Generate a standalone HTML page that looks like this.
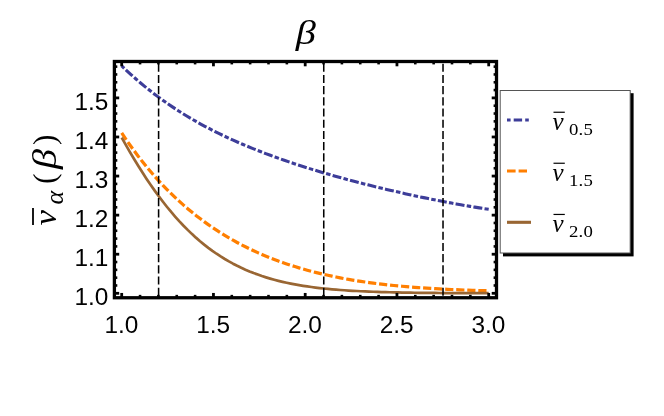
<!DOCTYPE html>
<html><head><meta charset="utf-8"><title>plot</title>
<style>
html,body{margin:0;padding:0;background:#fff;}
body{width:664px;height:416px;overflow:hidden;font-family:"Liberation Sans",sans-serif;}
svg{display:block;will-change:transform;opacity:0.999}
.tl text{font-family:"Liberation Sans",sans-serif;font-size:24.4px;fill:#000}
.mi{font-family:"Liberation Serif",serif;font-style:italic;fill:#000}
.mr{font-family:"Liberation Serif",serif;fill:#000}
</style></head><body>
<svg width="664" height="416" viewBox="0 0 664 416">
<!-- title -->
<g transform="translate(305.7,43.5) scale(1.18,1)"><text x="0" y="0" text-anchor="middle" class="mi" font-size="34.2">β</text></g>
<!-- y label -->
<g transform="translate(56,226.5) rotate(-90)">
<g transform="translate(1.0,0) scale(1.07,1)"><text x="0" y="0" class="mi" font-size="32.5">ν</text></g>
<line x1="1.6" y1="-23" x2="18.5" y2="-23" stroke="#000" stroke-width="1.8"/>
<text x="22" y="7" class="mi" font-size="26">α</text>
<text x="42.6" y="-1.1" class="mr" font-size="31.5">(</text>
<g transform="translate(57.6,0) scale(1.18,1)"><text x="0" y="0" class="mi" font-size="34.2">β</text></g>
<text x="81.4" y="-1.1" class="mr" font-size="31.5">)</text>
</g>
<!-- curves -->
<g fill="none" stroke-linecap="butt" stroke-linejoin="round">
<path d="M121.70,65.88 L126.35,70.31 L130.99,74.59 L135.64,78.72 L140.28,82.71 L144.93,86.57 L149.57,90.30 L154.22,93.90 L158.86,97.38 L163.51,100.74 L168.16,104.00 L172.80,107.15 L177.45,110.19 L182.09,113.14 L186.74,115.99 L191.38,118.76 L196.03,121.44 L200.67,124.03 L205.32,126.55 L209.97,128.99 L214.61,131.36 L219.26,133.67 L223.90,135.90 L228.55,138.08 L233.19,140.20 L237.84,142.26 L242.48,144.26 L247.13,146.22 L251.78,148.13 L256.42,149.99 L261.07,151.80 L265.71,153.58 L270.36,155.31 L275.00,157.01 L279.65,158.67 L284.29,160.29 L288.94,161.89 L293.59,163.44 L298.23,164.97 L302.88,166.47 L307.52,167.94 L312.17,169.39 L316.81,170.80 L321.46,172.19 L326.11,173.56 L330.75,174.90 L335.40,176.22 L340.04,177.52 L344.69,178.79 L349.33,180.05 L353.98,181.28 L358.62,182.50 L363.27,183.69 L367.92,184.87 L372.56,186.03 L377.21,187.17 L381.85,188.29 L386.50,189.39 L391.14,190.48 L395.79,191.55 L400.43,192.61 L405.08,193.65 L409.73,194.67 L414.37,195.67 L419.02,196.66 L423.66,197.63 L428.31,198.59 L432.95,199.53 L437.60,200.45 L442.24,201.35 L446.89,202.23 L451.54,203.10 L456.18,203.95 L460.83,204.78 L465.47,205.59 L470.12,206.38 L474.76,207.14 L479.41,207.89 L484.05,208.62 L488.70,209.32" stroke="#3d3d99" stroke-width="3.1" stroke-dasharray="4.5 2.26 9 2.28" stroke-dashoffset="1"/>
<path d="M121.70,132.93 L125.82,139.08 L129.95,145.00 L134.07,150.71 L138.19,156.21 L142.32,161.51 L146.44,166.62 L150.57,171.55 L154.69,176.30 L158.81,180.88 L162.94,185.30 L167.06,189.56 L171.18,193.67 L175.31,197.63 L179.43,201.45 L183.55,205.13 L187.68,208.68 L191.80,212.10 L195.92,215.40 L200.05,218.59 L204.17,221.65 L208.30,224.61 L212.42,227.46 L216.54,230.20 L220.67,232.85 L224.79,235.40 L228.91,237.85 L233.04,240.21 L237.16,242.49 L241.28,244.68 L245.41,246.79 L249.53,248.82 L253.66,250.78 L257.78,252.66 L261.90,254.47 L266.03,256.20 L270.15,257.87 L274.27,259.48 L278.40,261.02 L282.52,262.50 L286.64,263.93 L290.77,265.29 L294.89,266.60 L299.01,267.86 L303.14,269.06 L307.26,270.22 L311.39,271.32 L315.51,272.38 L319.63,273.40 L323.76,274.37 L327.88,275.30 L332.00,276.18 L336.13,277.03 L340.25,277.84 L344.37,278.62 L348.50,279.35 L352.62,280.06 L356.74,280.73 L360.87,281.37 L364.99,281.98 L369.12,282.56 L373.24,283.11 L377.36,283.64 L381.49,284.14 L385.61,284.61 L389.73,285.06 L393.86,285.49 L397.98,285.89 L402.10,286.28 L406.23,286.64 L410.35,286.98 L414.48,287.31 L418.60,287.61 L422.72,287.90 L426.85,288.18 L430.97,288.44 L435.09,288.68 L439.22,288.91 L443.34,289.12 L447.46,289.33 L451.59,289.52 L455.71,289.70 L459.83,289.86 L463.96,290.02 L468.08,290.17 L472.21,290.31 L476.33,290.44 L480.45,290.56 L484.58,290.67 L488.70,290.77" stroke="#ff7f00" stroke-width="3.2" stroke-dasharray="8.2 2.855"/>
<path d="M121.70,137.59 L125.82,144.94 L129.95,152.09 L134.07,159.04 L138.19,165.79 L142.32,172.33 L146.44,178.65 L150.57,184.75 L154.69,190.63 L158.81,196.30 L162.94,201.74 L167.06,206.97 L171.18,211.98 L175.31,216.77 L179.43,221.35 L183.55,225.73 L187.68,229.89 L191.80,233.86 L195.92,237.63 L200.05,241.21 L204.17,244.61 L208.30,247.82 L212.42,250.87 L216.54,253.74 L220.67,256.45 L224.79,259.01 L228.91,261.42 L233.04,263.68 L237.16,265.81 L241.28,267.80 L245.41,269.67 L249.53,271.42 L253.66,273.06 L257.78,274.59 L261.90,276.02 L266.03,277.35 L270.15,278.59 L274.27,279.75 L278.40,280.82 L282.52,281.82 L286.64,282.74 L290.77,283.60 L294.89,284.40 L299.01,285.13 L303.14,285.81 L307.26,286.44 L311.39,287.02 L315.51,287.56 L319.63,288.05 L323.76,288.50 L327.88,288.92 L332.00,289.30 L336.13,289.65 L340.25,289.98 L344.37,290.27 L348.50,290.55 L352.62,290.80 L356.74,291.02 L360.87,291.23 L364.99,291.42 L369.12,291.60 L373.24,291.75 L377.36,291.90 L381.49,292.03 L385.61,292.15 L389.73,292.26 L393.86,292.36 L397.98,292.45 L402.10,292.53 L406.23,292.60 L410.35,292.67 L414.48,292.73 L418.60,292.79 L422.72,292.84 L426.85,292.88 L430.97,292.92 L435.09,292.96 L439.22,293.00 L443.34,293.03 L447.46,293.05 L451.59,293.08 L455.71,293.10 L459.83,293.12 L463.96,293.14 L468.08,293.15 L472.21,293.17 L476.33,293.18 L480.45,293.19 L484.58,293.20 L488.70,293.21" stroke="#996633" stroke-width="2.7"/>
</g>
<!-- vertical dashed lines -->
<g stroke="#000" stroke-width="1.55" stroke-dasharray="8.08 3.12" stroke-dashoffset="-2.2" fill="none"><line x1="158.60" y1="61.5" x2="158.60" y2="297.75"/><line x1="323.75" y1="61.5" x2="323.75" y2="297.75"/><line x1="443.02" y1="61.5" x2="443.02" y2="297.75"/></g>
<!-- frame -->
<rect x="114.4" y="61.5" width="382.1" height="236.25" fill="none" stroke="#000" stroke-width="3.3"/>
<g stroke="#000"><line x1="121.70" y1="297.75" x2="121.70" y2="292.95" stroke-width="2.8"/><line x1="121.70" y1="61.5" x2="121.70" y2="66.30" stroke-width="2.8"/><line x1="140.05" y1="297.75" x2="140.05" y2="294.85" stroke-width="2.6"/><line x1="140.05" y1="61.5" x2="140.05" y2="64.40" stroke-width="2.6"/><line x1="158.40" y1="297.75" x2="158.40" y2="294.85" stroke-width="2.6"/><line x1="158.40" y1="61.5" x2="158.40" y2="64.40" stroke-width="2.6"/><line x1="176.75" y1="297.75" x2="176.75" y2="294.85" stroke-width="2.6"/><line x1="176.75" y1="61.5" x2="176.75" y2="64.40" stroke-width="2.6"/><line x1="195.10" y1="297.75" x2="195.10" y2="294.85" stroke-width="2.6"/><line x1="195.10" y1="61.5" x2="195.10" y2="64.40" stroke-width="2.6"/><line x1="213.45" y1="297.75" x2="213.45" y2="292.95" stroke-width="2.8"/><line x1="213.45" y1="61.5" x2="213.45" y2="66.30" stroke-width="2.8"/><line x1="231.80" y1="297.75" x2="231.80" y2="294.85" stroke-width="2.6"/><line x1="231.80" y1="61.5" x2="231.80" y2="64.40" stroke-width="2.6"/><line x1="250.15" y1="297.75" x2="250.15" y2="294.85" stroke-width="2.6"/><line x1="250.15" y1="61.5" x2="250.15" y2="64.40" stroke-width="2.6"/><line x1="268.50" y1="297.75" x2="268.50" y2="294.85" stroke-width="2.6"/><line x1="268.50" y1="61.5" x2="268.50" y2="64.40" stroke-width="2.6"/><line x1="286.85" y1="297.75" x2="286.85" y2="294.85" stroke-width="2.6"/><line x1="286.85" y1="61.5" x2="286.85" y2="64.40" stroke-width="2.6"/><line x1="305.20" y1="297.75" x2="305.20" y2="292.95" stroke-width="2.8"/><line x1="305.20" y1="61.5" x2="305.20" y2="66.30" stroke-width="2.8"/><line x1="323.55" y1="297.75" x2="323.55" y2="294.85" stroke-width="2.6"/><line x1="323.55" y1="61.5" x2="323.55" y2="64.40" stroke-width="2.6"/><line x1="341.90" y1="297.75" x2="341.90" y2="294.85" stroke-width="2.6"/><line x1="341.90" y1="61.5" x2="341.90" y2="64.40" stroke-width="2.6"/><line x1="360.25" y1="297.75" x2="360.25" y2="294.85" stroke-width="2.6"/><line x1="360.25" y1="61.5" x2="360.25" y2="64.40" stroke-width="2.6"/><line x1="378.60" y1="297.75" x2="378.60" y2="294.85" stroke-width="2.6"/><line x1="378.60" y1="61.5" x2="378.60" y2="64.40" stroke-width="2.6"/><line x1="396.95" y1="297.75" x2="396.95" y2="292.95" stroke-width="2.8"/><line x1="396.95" y1="61.5" x2="396.95" y2="66.30" stroke-width="2.8"/><line x1="415.30" y1="297.75" x2="415.30" y2="294.85" stroke-width="2.6"/><line x1="415.30" y1="61.5" x2="415.30" y2="64.40" stroke-width="2.6"/><line x1="433.65" y1="297.75" x2="433.65" y2="294.85" stroke-width="2.6"/><line x1="433.65" y1="61.5" x2="433.65" y2="64.40" stroke-width="2.6"/><line x1="452.00" y1="297.75" x2="452.00" y2="294.85" stroke-width="2.6"/><line x1="452.00" y1="61.5" x2="452.00" y2="64.40" stroke-width="2.6"/><line x1="470.35" y1="297.75" x2="470.35" y2="294.85" stroke-width="2.6"/><line x1="470.35" y1="61.5" x2="470.35" y2="64.40" stroke-width="2.6"/><line x1="488.70" y1="297.75" x2="488.70" y2="292.95" stroke-width="2.8"/><line x1="488.70" y1="61.5" x2="488.70" y2="66.30" stroke-width="2.8"/><line x1="114.4" y1="293.30" x2="119.20" y2="293.30" stroke-width="2.8"/><line x1="496.5" y1="293.30" x2="491.70" y2="293.30" stroke-width="2.8"/><line x1="114.4" y1="285.48" x2="117.30" y2="285.48" stroke-width="2.6"/><line x1="496.5" y1="285.48" x2="493.60" y2="285.48" stroke-width="2.6"/><line x1="114.4" y1="277.67" x2="117.30" y2="277.67" stroke-width="2.6"/><line x1="496.5" y1="277.67" x2="493.60" y2="277.67" stroke-width="2.6"/><line x1="114.4" y1="269.85" x2="117.30" y2="269.85" stroke-width="2.6"/><line x1="496.5" y1="269.85" x2="493.60" y2="269.85" stroke-width="2.6"/><line x1="114.4" y1="262.04" x2="117.30" y2="262.04" stroke-width="2.6"/><line x1="496.5" y1="262.04" x2="493.60" y2="262.04" stroke-width="2.6"/><line x1="114.4" y1="254.22" x2="119.20" y2="254.22" stroke-width="2.8"/><line x1="496.5" y1="254.22" x2="491.70" y2="254.22" stroke-width="2.8"/><line x1="114.4" y1="246.40" x2="117.30" y2="246.40" stroke-width="2.6"/><line x1="496.5" y1="246.40" x2="493.60" y2="246.40" stroke-width="2.6"/><line x1="114.4" y1="238.59" x2="117.30" y2="238.59" stroke-width="2.6"/><line x1="496.5" y1="238.59" x2="493.60" y2="238.59" stroke-width="2.6"/><line x1="114.4" y1="230.77" x2="117.30" y2="230.77" stroke-width="2.6"/><line x1="496.5" y1="230.77" x2="493.60" y2="230.77" stroke-width="2.6"/><line x1="114.4" y1="222.96" x2="117.30" y2="222.96" stroke-width="2.6"/><line x1="496.5" y1="222.96" x2="493.60" y2="222.96" stroke-width="2.6"/><line x1="114.4" y1="215.14" x2="119.20" y2="215.14" stroke-width="2.8"/><line x1="496.5" y1="215.14" x2="491.70" y2="215.14" stroke-width="2.8"/><line x1="114.4" y1="207.32" x2="117.30" y2="207.32" stroke-width="2.6"/><line x1="496.5" y1="207.32" x2="493.60" y2="207.32" stroke-width="2.6"/><line x1="114.4" y1="199.51" x2="117.30" y2="199.51" stroke-width="2.6"/><line x1="496.5" y1="199.51" x2="493.60" y2="199.51" stroke-width="2.6"/><line x1="114.4" y1="191.69" x2="117.30" y2="191.69" stroke-width="2.6"/><line x1="496.5" y1="191.69" x2="493.60" y2="191.69" stroke-width="2.6"/><line x1="114.4" y1="183.88" x2="117.30" y2="183.88" stroke-width="2.6"/><line x1="496.5" y1="183.88" x2="493.60" y2="183.88" stroke-width="2.6"/><line x1="114.4" y1="176.06" x2="119.20" y2="176.06" stroke-width="2.8"/><line x1="496.5" y1="176.06" x2="491.70" y2="176.06" stroke-width="2.8"/><line x1="114.4" y1="168.24" x2="117.30" y2="168.24" stroke-width="2.6"/><line x1="496.5" y1="168.24" x2="493.60" y2="168.24" stroke-width="2.6"/><line x1="114.4" y1="160.43" x2="117.30" y2="160.43" stroke-width="2.6"/><line x1="496.5" y1="160.43" x2="493.60" y2="160.43" stroke-width="2.6"/><line x1="114.4" y1="152.61" x2="117.30" y2="152.61" stroke-width="2.6"/><line x1="496.5" y1="152.61" x2="493.60" y2="152.61" stroke-width="2.6"/><line x1="114.4" y1="144.80" x2="117.30" y2="144.80" stroke-width="2.6"/><line x1="496.5" y1="144.80" x2="493.60" y2="144.80" stroke-width="2.6"/><line x1="114.4" y1="136.98" x2="119.20" y2="136.98" stroke-width="2.8"/><line x1="496.5" y1="136.98" x2="491.70" y2="136.98" stroke-width="2.8"/><line x1="114.4" y1="129.16" x2="117.30" y2="129.16" stroke-width="2.6"/><line x1="496.5" y1="129.16" x2="493.60" y2="129.16" stroke-width="2.6"/><line x1="114.4" y1="121.35" x2="117.30" y2="121.35" stroke-width="2.6"/><line x1="496.5" y1="121.35" x2="493.60" y2="121.35" stroke-width="2.6"/><line x1="114.4" y1="113.53" x2="117.30" y2="113.53" stroke-width="2.6"/><line x1="496.5" y1="113.53" x2="493.60" y2="113.53" stroke-width="2.6"/><line x1="114.4" y1="105.72" x2="117.30" y2="105.72" stroke-width="2.6"/><line x1="496.5" y1="105.72" x2="493.60" y2="105.72" stroke-width="2.6"/><line x1="114.4" y1="97.90" x2="119.20" y2="97.90" stroke-width="2.8"/><line x1="496.5" y1="97.90" x2="491.70" y2="97.90" stroke-width="2.8"/><line x1="114.4" y1="90.08" x2="117.30" y2="90.08" stroke-width="2.6"/><line x1="496.5" y1="90.08" x2="493.60" y2="90.08" stroke-width="2.6"/><line x1="114.4" y1="82.27" x2="117.30" y2="82.27" stroke-width="2.6"/><line x1="496.5" y1="82.27" x2="493.60" y2="82.27" stroke-width="2.6"/><line x1="114.4" y1="74.45" x2="117.30" y2="74.45" stroke-width="2.6"/><line x1="496.5" y1="74.45" x2="493.60" y2="74.45" stroke-width="2.6"/><line x1="114.4" y1="66.64" x2="117.30" y2="66.64" stroke-width="2.6"/><line x1="496.5" y1="66.64" x2="493.60" y2="66.64" stroke-width="2.6"/></g>
<g class="tl"><text x="121.40" y="333.2" text-anchor="middle">1.0</text><text x="213.15" y="333.2" text-anchor="middle">1.5</text><text x="304.90" y="333.2" text-anchor="middle">2.0</text><text x="396.65" y="333.2" text-anchor="middle">2.5</text><text x="488.40" y="333.2" text-anchor="middle">3.0</text><text x="108.4" y="305.20" text-anchor="end">1.0</text><text x="108.4" y="266.12" text-anchor="end">1.1</text><text x="108.4" y="227.04" text-anchor="end">1.2</text><text x="108.4" y="187.96" text-anchor="end">1.3</text><text x="108.4" y="148.88" text-anchor="end">1.4</text><text x="108.4" y="109.80" text-anchor="end">1.5</text></g>
<!-- legend -->
<rect x="503" y="93.2" width="130.6" height="163.2" fill="#000"/>
<rect x="500.2" y="90.5" width="130" height="162.5" fill="#fff" stroke="#555" stroke-width="1"/>
<g fill="none">
<line x1="507" y1="120" x2="529.5" y2="120" stroke="#3d3d99" stroke-width="3.0" stroke-dasharray="3.6 3.1 8.4 3.1"/>
<line x1="507" y1="171" x2="527" y2="171" stroke="#ff7f00" stroke-width="3.1" stroke-dasharray="8.6 3"/>
<line x1="507" y1="222.3" x2="531" y2="222.3" stroke="#996633" stroke-width="3.1"/>
</g>
<text x="552.5" y="129.5" class="mi" font-size="25">ν</text><line x1="553.5" y1="112.25" x2="564.8" y2="112.25" stroke="#000" stroke-width="1.2"/><g transform="translate(568.9,135.0) scale(1.08,1)"><text x="0" y="0" class="mr" font-size="17.4" letter-spacing="0.2">0.5</text></g>
<text x="552.5" y="180.5" class="mi" font-size="25">ν</text><line x1="553.5" y1="163.25" x2="564.8" y2="163.25" stroke="#000" stroke-width="1.2"/><g transform="translate(568.9,186.0) scale(1.08,1)"><text x="0" y="0" class="mr" font-size="17.4" letter-spacing="0.2">1.5</text></g>
<text x="552.5" y="231.7" class="mi" font-size="25">ν</text><line x1="553.5" y1="214.45" x2="564.8" y2="214.45" stroke="#000" stroke-width="1.2"/><g transform="translate(568.9,237.2) scale(1.08,1)"><text x="0" y="0" class="mr" font-size="17.4" letter-spacing="0.2">2.0</text></g>
</svg>
</body></html>
